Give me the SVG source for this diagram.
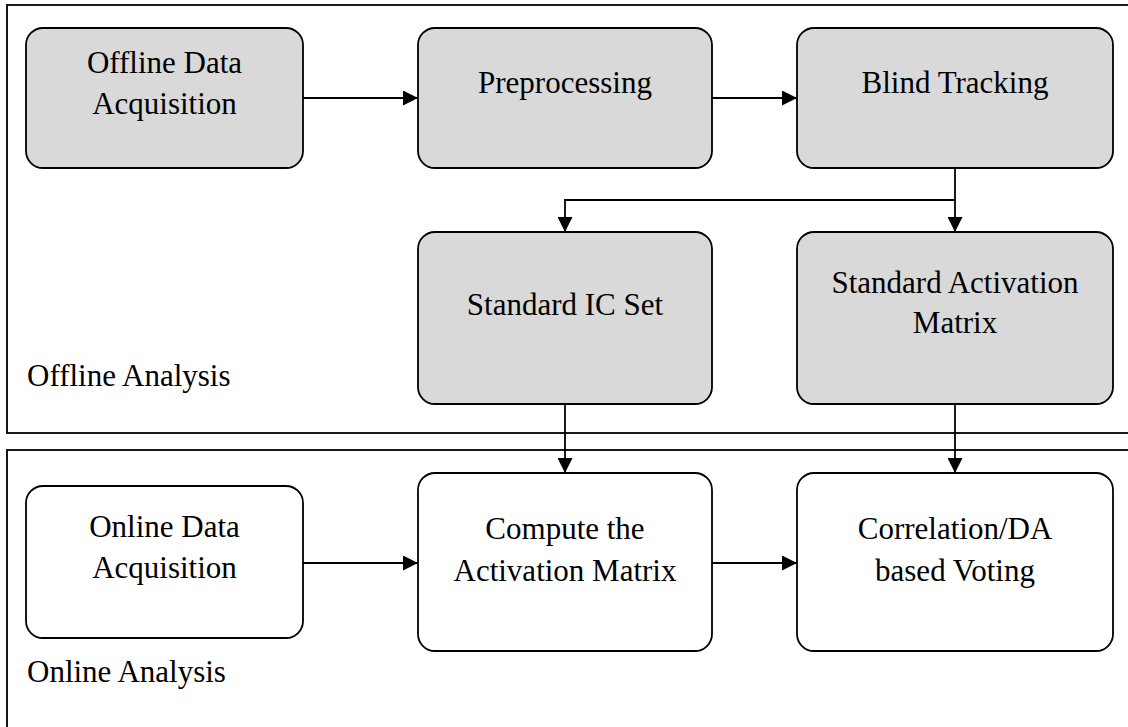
<svg xmlns="http://www.w3.org/2000/svg" width="1128" height="727" viewBox="0 0 1128 727">
<style>
.panel{fill:#ffffff;stroke:#000;stroke-width:1.8}
.box{stroke:#000;stroke-width:1.8}
.g{fill:#d9d9d9}
.w{fill:#ffffff}
text{font-family:"Liberation Serif","Times New Roman",serif;font-size:31px;fill:#000}
.c{text-anchor:middle}
.conn{fill:none;stroke:#000;stroke-width:1.8}
</style>
<defs>
<marker id="ah" viewBox="0 0 15 15" refX="15" refY="7.5" markerWidth="15" markerHeight="15" markerUnits="userSpaceOnUse" orient="auto">
<path d="M0,0 L15,7.5 L0,15 Z" fill="#000"/>
</marker>
</defs>
<rect width="1128" height="727" fill="#fff"/>
<g id="offline-panel">
<rect class="panel" x="7" y="5" width="1130" height="428"/>
<text x="27" y="386">Offline Analysis</text>
</g>
<g id="online-panel">
<rect class="panel" x="7" y="450" width="1130" height="290"/>
<text x="27" y="682">Online Analysis</text>
</g>
<g id="n-offline-acq">
<rect class="box g" x="26" y="28" width="277" height="140" rx="17"/>
<text class="c" x="164.5" y="73">Offline Data</text>
<text class="c" x="164.5" y="114">Acquisition</text>
</g>
<g id="n-preprocessing">
<rect class="box g" x="418" y="28" width="294" height="140" rx="17"/>
<text class="c" x="565" y="93">Preprocessing</text>
</g>
<g id="n-blind-tracking">
<rect class="box g" x="797" y="28" width="316" height="140" rx="17"/>
<text class="c" x="955" y="93">Blind Tracking</text>
</g>
<g id="n-ic-set">
<rect class="box g" x="418" y="232" width="294" height="172" rx="17"/>
<text class="c" x="565" y="315">Standard IC Set</text>
</g>
<g id="n-std-activation">
<rect class="box g" x="797" y="232" width="316" height="172" rx="17"/>
<text class="c" x="955" y="293">Standard Activation</text>
<text class="c" x="955" y="333">Matrix</text>
</g>
<g id="n-online-acq">
<rect class="box w" x="26" y="486" width="277" height="152" rx="17"/>
<text class="c" x="164.5" y="537">Online Data</text>
<text class="c" x="164.5" y="578">Acquisition</text>
</g>
<g id="n-compute">
<rect class="box w" x="418" y="473" width="294" height="178" rx="17"/>
<text class="c" x="565" y="539">Compute the</text>
<text class="c" x="565" y="581">Activation Matrix</text>
</g>
<g id="n-voting">
<rect class="box w" x="797" y="473" width="316" height="178" rx="17"/>
<text class="c" x="955" y="539">Correlation/DA</text>
<text class="c" x="955" y="581">based Voting</text>
</g>
<g id="connectors">
<path class="conn" d="M303,98 H418" marker-end="url(#ah)"/>
<path class="conn" d="M712,98 H797" marker-end="url(#ah)"/>
<path class="conn" d="M955,168 V232" marker-end="url(#ah)"/>
<path class="conn" d="M955,200 H565 V232" marker-end="url(#ah)"/>
<path class="conn" d="M565,404 V473" marker-end="url(#ah)"/>
<path class="conn" d="M955,404 V473" marker-end="url(#ah)"/>
<path class="conn" d="M303,563 H418" marker-end="url(#ah)"/>
<path class="conn" d="M712,563 H797" marker-end="url(#ah)"/>
</g>
</svg>
